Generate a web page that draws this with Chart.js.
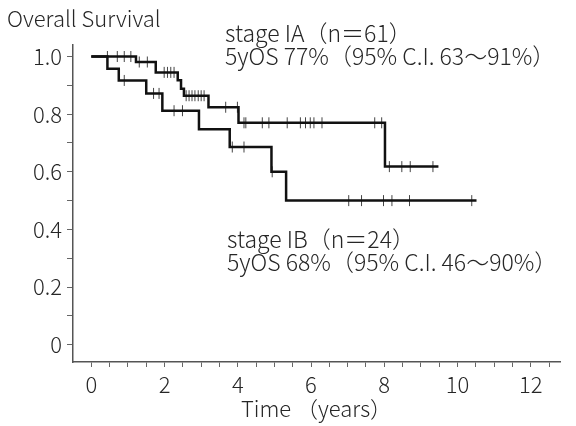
<!DOCTYPE html>
<html>
<head>
<meta charset="utf-8">
<script src="https://cdn.jsdelivr.net/npm/chart.js@4.4.1/dist/chart.umd.min.js"></script>
<style>
  html, body { margin: 0; padding: 0; background: #fff; }
  #wrap { width: 576px; height: 426px; position: relative; }
</style>
</head>
<body>
<div id="wrap"><canvas id="km"></canvas></div>
<script>
  // Kaplan-Meier steps (years, survival)
  const iaTime = [0, 1.22, 1.76, 2.36, 2.45, 2.53, 3.2, 4.02, 8.02, 9.48];
  const iaSurv = [1.0, 0.981, 0.945, 0.918, 0.888, 0.864, 0.824, 0.770, 0.618, 0.618];
  const ibTime = [0, 0.44, 0.75, 1.5, 1.94, 2.94, 3.78, 4.92, 5.32, 10.52];
  const ibSurv = [1.0, 0.958, 0.917, 0.872, 0.812, 0.748, 0.686, 0.600, 0.500, 0.500];

  // censored observations (years)
  const iaCensor = [0.44, 0.71, 0.9, 1.08, 1.31, 1.53, 1.99, 2.08, 2.17, 2.26, 2.59, 2.67, 2.75, 2.83,
    2.92, 3.0, 3.08, 3.67, 3.99, 4.17, 4.22, 4.67, 4.85, 5.35, 5.71, 5.85, 5.98, 6.08, 6.3, 7.74, 7.93,
    8.14, 8.48, 8.71, 9.33];
  const ibCensor = [0.9, 1.7, 1.85, 2.26, 2.49, 3.85, 4.17, 4.94, 7.03, 7.38, 7.98, 8.21, 8.69, 10.39];

  const xMajor = [0, 2, 4, 6, 8, 10, 12];
  const yMajor = [0, 0.2, 0.4, 0.6, 0.8, 1.0];

  const labelIA = ['stage IA（n＝61）', '5yOS 77%（95% C.I. 63～91%）'];
  const labelIB = ['stage IB（n＝24）', '5yOS 68%（95% C.I. 46～90%）'];

  const FONT = '"Noto Sans CJK JP", "Noto Sans", sans-serif';
  const INK = '#262626';

  function survAt(times, surv, t) {
    let s = surv[0];
    for (let i = 0; i < times.length; i++) if (times[i] <= t) s = surv[i];
    return s;
  }
  const steps = (times, surv) => times.map((t, i) => ({ x: t, y: surv[i] }));
  const marks = (cens, times, surv) => cens.map(t => ({ x: t, y: survAt(times, surv, t) }));

  const lineStyle = { borderColor: '#111', borderWidth: 2.5, stepped: 'before', pointRadius: 0, fill: false, showLine: true };
  const censorStyle = {
    borderColor: '#444', backgroundColor: '#444', showLine: false,
    pointStyle: 'line', rotation: 90, pointRadius: 5.5, pointBorderWidth: 1, pointHoverRadius: 0,
  };

  const textPlugin = {
    id: 'texts',
    afterDraw(chart) {
      const ctx = chart.ctx;
      ctx.save();
      ctx.fillStyle = INK;
      ctx.textBaseline = 'middle';
      ctx.font = '300 22px ' + FONT;
      ctx.fillText('Overall Survival', 7, 19);
      ctx.font = '300 23px ' + FONT;
      ctx.fillText(labelIA[0], 225, 33);
      ctx.fillText(labelIA[1], 225, 56);
      ctx.fillText(labelIB[0], 227, 239);
      ctx.fillText(labelIB[1], 227, 262);
      ctx.restore();
    },
  };

  new Chart(document.getElementById('km'), {
    type: 'scatter',
    data: {
      datasets: [
        Object.assign({ label: 'IA', data: steps(iaTime, iaSurv) }, lineStyle),
        Object.assign({ label: 'IB', data: steps(ibTime, ibSurv) }, lineStyle),
        Object.assign({ label: 'IA censored', data: marks(iaCensor, iaTime, iaSurv) }, censorStyle),
        Object.assign({ label: 'IB censored', data: marks(ibCensor, ibTime, ibSurv) }, censorStyle),
      ],
    },
    options: {
      responsive: true,
      maintainAspectRatio: false,
      animation: false,
      layout: { padding: { top: 45, right: 16, left: 0, bottom: 0 } },
      plugins: { legend: { display: false }, tooltip: { enabled: false } },
      scales: {
        x: {
          type: 'linear',
          min: -0.5,
          max: 12.8,
          afterBuildTicks: s => { s.ticks = []; for (let v = 0; v <= 12.5; v += 0.5) s.ticks.push({ value: v }); },
          afterFit: s => { s.height = 64; },
          border: { color: '#555', width: 1.5 },
          grid: { drawOnChartArea: false, tickLength: 5, color: '#666', tickWidth: 1 },
          ticks: {
            color: INK, font: { family: FONT, size: 22, weight: '300' }, padding: 4, maxRotation: 0, autoSkip: false,
            callback: v => xMajor.includes(v) ? String(v) : '',
          },
          title: { display: true, text: 'Time （years）', color: INK, font: { family: FONT, size: 22, weight: '300' }, padding: { top: 0 } },
        },
        y: {
          type: 'linear',
          min: -0.06,
          max: 1.04,
          afterBuildTicks: s => { s.ticks = []; for (let i = 0; i <= 10; i++) s.ticks.push({ value: i / 10 }); },
          afterFit: s => { s.width = 73; },
          border: { color: '#555', width: 1.5 },
          grid: { drawOnChartArea: false, tickLength: 6, color: '#666', tickWidth: 1 },
          ticks: {
            color: INK, font: { family: FONT, size: 22, weight: '300' }, padding: 5, autoSkip: false,
            callback: v => {
              const m = yMajor.find(t => Math.abs(t - v) < 1e-6);
              if (m === undefined) return '';
              return m === 0 ? '0' : m.toFixed(1);
            },
          },
        },
      },
    },
    plugins: [textPlugin],
  });
</script>
</body>
</html>
